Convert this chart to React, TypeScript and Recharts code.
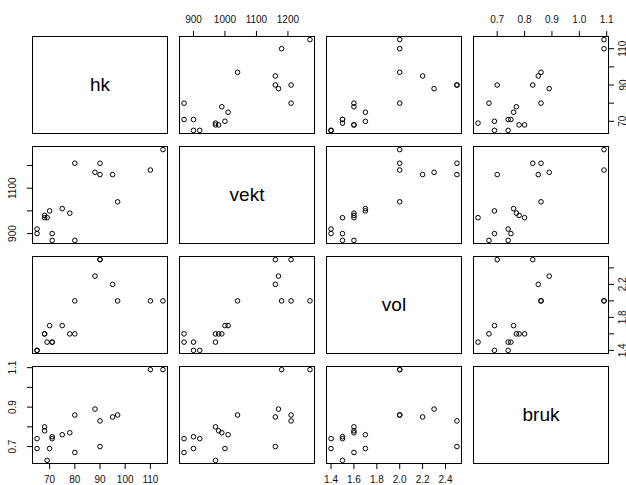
import React from 'react'
import { ScatterChart, Scatter, XAxis, YAxis } from 'recharts'

// one entry per car
const hk = [65, 65, 68, 68, 69, 70, 71, 71, 75, 78, 80, 80, 88, 90, 90, 95, 97, 110, 115]
const vekt = [920, 900, 970, 980, 970, 1000, 870, 900, 1010, 990, 870, 1210, 1170, 1210, 1160, 1160, 1040, 1180, 1270]
const vol = [1.4, 1.4, 1.6, 1.6, 1.5, 1.7, 1.5, 1.5, 1.7, 1.6, 1.6, 2.0, 2.3, 2.5, 2.5, 2.2, 2.0, 2.0, 2.0]
const bruk = [0.74, 0.69, 0.8, 0.78, 0.63, 0.69, 0.74, 0.75, 0.76, 0.77, 0.67, 0.86, 0.89, 0.83, 0.7, 0.85, 0.86, 1.09, 1.09]

const hkTicks = [70, 80, 90, 100, 110]
const vektTicks = [900, 1000, 1100, 1200]
const volTicks = [1.4, 1.6, 1.8, 2.0, 2.2, 2.4]
const brukTicks = [0.7, 0.8, 0.9, 1.0, 1.1]

// labels that survive on the vertical (rotated) axes
const hkSideLabels = [70, 90, 110]
const vektSideLabels = [900, 1100]
const volSideLabels = [1.4, 1.8, 2.2]
const brukSideLabels = [0.7, 0.9, 1.1]

const vars = [
    { name: 'hk', values: hk, ticks: hkTicks, side: hkSideLabels, digits: 0 },
    { name: 'vekt', values: vekt, ticks: vektTicks, side: vektSideLabels, digits: 0 },
    { name: 'vol', values: vol, ticks: volTicks, side: volSideLabels, digits: 1 },
    { name: 'bruk', values: bruk, ticks: brukTicks, side: brukSideLabels, digits: 1 },
]

const FONT = '"Liberation Sans", Arial, sans-serif'
const colX = [32, 179, 326, 473]
const rowY = [36, 146, 256, 366]
const PW = 136
const PH = 98
const P = 30

// R style: range extended by 4% on each side
const padDomain = (v: number[]): [number, number] => {
    const lo = Math.min(...v)
    const hi = Math.max(...v)
    const d = (hi - lo) * 0.04
    return [lo - d, hi + d]
}

const near = (a: number, list: number[]) => list.some(b => Math.abs(a - b) < 1e-6)

const Ring = (props: any) => {
    if (props.cx == null || props.cy == null) return null
    return <circle cx={props.cx} cy={props.cy} r={2.3} fill="none" stroke="#000" strokeWidth={1} />
}

const Panel = ({ row, col }: { row: number, col: number }) => {
    const xv = vars[col]
    const yv = vars[row]
    const data = xv.values.map((x, k) => ({ x, y: yv.values[k] }))

    const xTop = row === 0 && col % 2 === 1
    const xBottom = row === 3 && col % 2 === 0
    const yLeft = col === 0 && row % 2 === 1
    const yRight = col === 3 && row % 2 === 0

    const margin = {
        top: xTop ? 0 : P,
        bottom: xBottom ? 0 : P,
        left: yLeft ? 0 : P,
        right: yRight ? 0 : P,
    }

    const xTick = (p: any) => {
        const v = p.payload.value
        const ty = xTop ? P - 17 : P + PH + 15
        return (
            <text x={p.x} y={ty} dominantBaseline="central" textAnchor="middle"
                fontSize={10} fontFamily={FONT} fill="#111">
                {v.toFixed(xv.digits)}
            </text>
        )
    }

    const yTick = (p: any) => {
        const v = p.payload.value
        if (!near(v, yv.side)) return <g />
        const tx = yLeft ? P - 19 : P + PW + 14
        return (
            <text x={tx} y={p.y} dominantBaseline="central" textAnchor="middle"
                fontSize={10} fontFamily={FONT} fill="#111"
                transform={`rotate(-90, ${tx}, ${p.y})`}>
                {v.toFixed(yv.digits)}
            </text>
        )
    }

    return (
        <div style={{ position: 'absolute', left: colX[col] - P, top: rowY[row] - P }}>
            <ScatterChart width={PW + 2 * P} height={PH + 2 * P} margin={margin}>
                <XAxis
                    type="number"
                    dataKey="x"
                    domain={padDomain(xv.values)}
                    allowDataOverflow
                    ticks={xv.ticks}
                    interval={0}
                    hide={!(xTop || xBottom)}
                    orientation={xTop ? 'top' : 'bottom'}
                    height={P}
                    axisLine={false}
                    tickSize={5}
                    tickLine={{ stroke: '#000' }}
                    tick={xTick}
                />
                <YAxis
                    type="number"
                    dataKey="y"
                    domain={padDomain(yv.values)}
                    allowDataOverflow
                    ticks={yv.ticks}
                    interval={0}
                    hide={!(yLeft || yRight)}
                    orientation={yLeft ? 'left' : 'right'}
                    width={P}
                    axisLine={false}
                    tickSize={5}
                    tickLine={{ stroke: '#000' }}
                    tick={yTick}
                />
                <Scatter data={data} shape={Ring} isAnimationActive={false} />
            </ScatterChart>
        </div>
    )
}

const App = () => {
    const cells = []
    for (let r = 0; r < 4; r++) {
        for (let c = 0; c < 4; c++) {
            if (r !== c) cells.push(<Panel key={`${r}-${c}`} row={r} col={c} />)
            cells.push(
                <div key={`f${r}-${c}`} style={{
                    position: 'absolute',
                    left: colX[c],
                    top: rowY[r],
                    width: PW,
                    height: PH,
                    border: '1px solid #000',
                    boxSizing: 'border-box',
                    display: 'flex',
                    alignItems: 'center',
                    justifyContent: 'center',
                    fontFamily: FONT,
                    fontSize: 19,
                    color: '#000',
                    pointerEvents: 'none',
                }}>
                    {r === c ? vars[r].name : null}
                </div>
            )
        }
    }
    return (
        <div style={{ position: 'absolute', left: 0, top: 0, width: 626, height: 485, background: '#fff', overflow: 'hidden' }}>
            {cells}
        </div>
    )
}

export default App
